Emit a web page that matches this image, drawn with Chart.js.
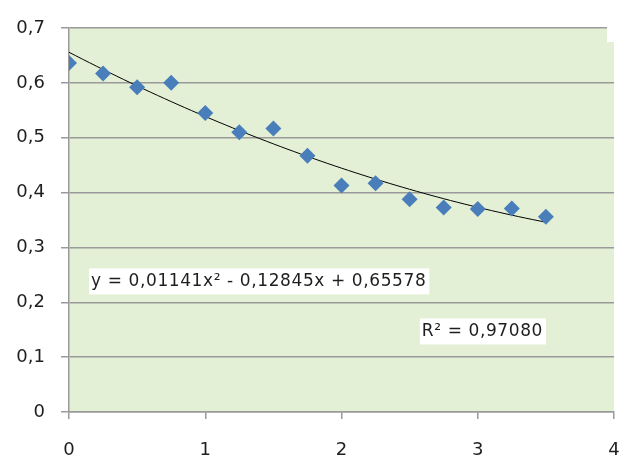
<!DOCTYPE html>
<html>
<head>
<meta charset="utf-8">
<script src="https://cdn.jsdelivr.net/npm/chart.js@4.4.1/dist/chart.umd.min.js"></script>
<style>
  html, body { margin: 0; padding: 0; background: #ffffff; }
  #wrap { width: 627px; height: 456px; }
</style>
</head>
<body>
<div id="wrap"><canvas id="c" width="627" height="456"></canvas></div>
<script>
// Measured values
const xValues = [0, 0.25, 0.5, 0.75, 1, 1.25, 1.5, 1.75, 2, 2.25, 2.5, 2.75, 3, 3.25, 3.5];
const yValues = [0.636, 0.617, 0.592, 0.600, 0.545, 0.510, 0.517, 0.467, 0.413, 0.417, 0.388, 0.373, 0.370, 0.371, 0.356];

// Polynomial trend (order 2) coefficients, as printed on the chart
const trendCoeffs = [0.65578, -0.12845, 0.01141]; // c0 + c1*x + c2*x^2
const trendRange = [0, 3.5];
const rSquared = '0,97080';

// Axis ticks
const xTicks = [0, 1, 2, 3, 4];
const yTicks = [0, 0.1, 0.2, 0.3, 0.4, 0.5, 0.6, 0.7];

const points = xValues.map((x, i) => ({ x: x, y: yValues[i] }));

const trendPoints = [];
for (let k = 0; k <= 70; k++) {
  const x = trendRange[0] + (trendRange[1] - trendRange[0]) * k / 70;
  trendPoints.push({ x: x, y: trendCoeffs[0] + trendCoeffs[1] * x + trendCoeffs[2] * x * x });
}

const fmt = v => String(Math.round(v * 10) / 10).replace('.', ',');
const eqText = 'y = ' + String(trendCoeffs[2]).replace('.', ',') + 'x² - ' +
  String(Math.abs(trendCoeffs[1])).replace('.', ',') + 'x + ' +
  String(trendCoeffs[0]).replace('.', ',');

// text boxes: left edge and vertical centre given in data units
const notes = [
  { text: eqText, x: 0.147, y: 0.239 },
  { text: 'R² = ' + rSquared, x: 2.575, y: 0.1477 }
];

Chart.defaults.font.family = '"DejaVu Sans", sans-serif';
Chart.defaults.font.size = 18;
Chart.defaults.color = '#1e1e1e';

const gridGrey = '#9a9a9a';

const plotFill = {
  id: 'plotFill',
  beforeDraw(chart) {
    const a = chart.chartArea, ctx = chart.ctx;
    ctx.save();
    ctx.fillStyle = '#e3f0d5';
    ctx.fillRect(a.left, a.top, a.right - a.left, a.bottom - a.top);
    ctx.restore();
  },
  beforeDatasetsDraw(chart) {
    // blank strip at the top-right corner of the plot
    const a = chart.chartArea, ctx = chart.ctx;
    ctx.save();
    ctx.fillStyle = '#ffffff';
    ctx.fillRect(a.right - 7, a.top - 2, 9, 16);
    ctx.restore();
  }
};

const textBoxes = {
  id: 'textBoxes',
  afterDatasetsDraw(chart) {
    const ctx = chart.ctx;
    const xs = chart.scales.x, ys = chart.scales.y;
    ctx.save();
    ctx.font = '17px "DejaVu Sans", sans-serif';
    ctx.letterSpacing = '0.6px';
    ctx.textBaseline = 'middle';
    ctx.textAlign = 'left';
    notes.forEach(n => {
      const px = xs.getPixelForValue(n.x);
      const py = ys.getPixelForValue(n.y);
      const w = ctx.measureText(n.text).width;
      ctx.fillStyle = '#ffffff';
      ctx.fillRect(px, py - 12.5, w + 5, 26);
      ctx.fillStyle = '#1e1e1e';
      ctx.fillText(n.text, px + 2, py + 1);
    });
    ctx.restore();
  }
};

new Chart(document.getElementById('c'), {
  type: 'scatter',
  data: {
    datasets: [
      {
        label: 'trend',
        data: trendPoints,
        showLine: true,
        borderColor: '#000000',
        borderWidth: 1,
        pointRadius: 0,
        fill: false,
        tension: 0,
        order: 1
      },
      {
        label: 'values',
        data: points,
        pointStyle: 'rectRot',
        pointRadius: 8,
        backgroundColor: '#4a7ebb',
        borderColor: '#4a7ebb',
        borderWidth: 0,
        order: 0
      }
    ]
  },
  options: {
    responsive: false,
    animation: false,
    devicePixelRatio: 1,
    layout: { padding: { top: 28, right: 13, left: 0, bottom: 0 } },
    plugins: { legend: { display: false }, tooltip: { enabled: false } },
    scales: {
      x: {
        type: 'linear',
        min: 0, max: 4,
        afterBuildTicks: s => { s.ticks = xTicks.map(v => ({ value: v })); },
        afterFit: s => { s.height = 44; s.paddingRight = 0; s.paddingLeft = 0; },
        grid: { drawOnChartArea: false, drawTicks: true, tickLength: 7, color: gridGrey, lineWidth: 1.5 },
        border: { color: gridGrey, width: 1.5 },
        ticks: { padding: 21, callback: v => String(v) }
      },
      y: {
        type: 'linear',
        min: 0, max: 0.7,
        afterBuildTicks: s => { s.ticks = yTicks.map(v => ({ value: v })); },
        afterFit: s => { s.width = 69; },
        grid: { color: gridGrey, lineWidth: 1.5, tickLength: 8 },
        border: { color: gridGrey, width: 1.5 },
        ticks: { padding: 16, callback: v => fmt(v) }
      }
    }
  },
  plugins: [plotFill, textBoxes]
});
</script>
</body>
</html>
